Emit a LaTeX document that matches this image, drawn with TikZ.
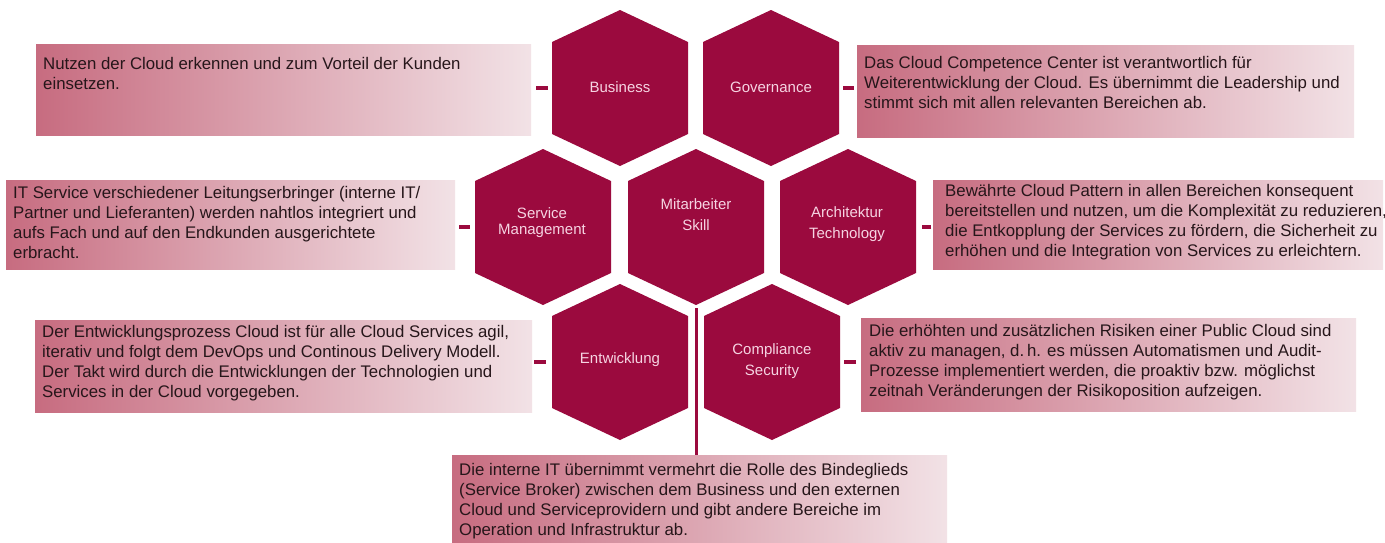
\documentclass[tikz,border=0pt]{standalone}
\usepackage{fontspec}
\setmainfont{Liberation Sans}
\definecolor{hexfill}{RGB}{155,10,62}
\definecolor{hextext}{RGB}{246,212,226}
\definecolor{boxL}{RGB}{199,108,128}
\definecolor{boxR}{RGB}{242,226,230}
\definecolor{txtdark}{RGB}{38,22,26}
\tikzset{
  boxstyle/.style={rectangle, draw=none, left color=boxL, right color=boxR, inner sep=0pt, anchor=north west},
  boxtxt/.style={anchor=north west, inner sep=0pt, align=left, text=txtdark, font=\fontsize{16.8}{20}\selectfont},
  hextxt/.style={text=hextext, align=center, inner sep=0pt, font=\fontsize{15}{21}\selectfont},
  hexshape/.style={fill=hexfill},
  connector/.style={draw=hexfill, line width=3.5pt},
  spine/.style={draw=hexfill, line width=3pt}
}
\newcommand\myhex[1]{\path[hexshape] (#1) ++(0,-78) -- ++(68,32) -- ++(0,92) -- ++(-68,32) -- ++(-68,-32) -- ++(0,-92) -- cycle;}
\begin{document}
\begin{tikzpicture}[x=1pt,y=-1pt]
\useasboundingbox (0,0) rectangle (1385,542);
\fill[white] (0,0) rectangle (1385,542);
% hexagon centres
\coordinate (cB) at (620,88);
\coordinate (cG) at (771,88);
\coordinate (cS) at (543,227);
\coordinate (cM) at (696,227);
\coordinate (cA) at (848,227);
\coordinate (cE) at (620,362);
\coordinate (cC) at (772,362);
\myhex{cB}\myhex{cG}\myhex{cS}\myhex{cM}\myhex{cA}\myhex{cE}\myhex{cC}
% hexagon labels
\node[hextxt] (business) at (620,87) {Business};
\node[hextxt] (governance) at (771,87) {Governance};
\node[hextxt, font=\fontsize{15}{16}\selectfont] (servman) at (542,223) {Service\\Management};
\node[hextxt] (mitarb) at (696,215) {Mitarbeiter\\Skill};
\node[hextxt] (archi) at (847,224) {Architektur\\Technology};
\node[hextxt] (entw) at (620,360) {Entwicklung};
\node[hextxt] (compl) at (772,361) {Compliance\\Security};
% boxes
\node[boxstyle, minimum width=495pt, minimum height=91pt] (b1) at (36,44) {};
\node[boxstyle, minimum width=497pt, minimum height=92pt] (b2) at (857,45) {};
\node[boxstyle, minimum width=449pt, minimum height=89pt] (b3) at (6,180) {};
\node[boxstyle, minimum width=450pt, minimum height=89pt] (b4) at (933,180) {};
\node[boxstyle, minimum width=497pt, minimum height=92pt] (b5) at (35,320) {};
\node[boxstyle, minimum width=495pt, minimum height=93pt] (b6) at (861,318) {};
\node[boxstyle, minimum width=495pt, minimum height=92pt] (b7) at (452,455) {};
% box texts
\node[boxtxt] (t1) at ([xshift=7pt,yshift=-11pt]b1.north west) {\strut Nutzen der Cloud erkennen und zum Vorteil der Kunden\\einsetzen.};
\node[boxtxt] (t2) at ([xshift=7pt,yshift=-9pt]b2.north west) {\strut Das Cloud Competence Center ist verantwortlich für\\Weiterentwicklung der Cloud. Es übernimmt die Leadership und\\stimmt sich mit allen relevanten Bereichen ab.};
\node[boxtxt] (t3) at ([xshift=7pt,yshift=-4pt]b3.north west) {\strut IT Service verschiedener Leitungserbringer (interne IT/\\Partner und Lieferanten) werden nahtlos integriert und\\aufs Fach und auf den Endkunden ausgerichtete\\erbracht.};
\node[boxtxt] (t4) at ([xshift=12pt,yshift=-2pt]b4.north west) {\strut Bewährte Cloud Pattern in allen Bereichen konsequent\\bereitstellen und nutzen, um die Komplexität zu reduzieren,\\die Entkopplung der Services zu fördern, die Sicherheit zu\\erhöhen und die Integration von Services zu erleichtern.};
\node[boxtxt] (t5) at ([xshift=7pt,yshift=-3pt]b5.north west) {\strut Der Entwicklungsprozess Cloud ist für alle Cloud Services agil,\\iterativ und folgt dem DevOps und Continous Delivery Modell.\\Der Takt wird durch die Entwicklungen der Technologien und\\Services in der Cloud vorgegeben.};
\node[boxtxt] (t6) at ([xshift=8pt,yshift=-4pt]b6.north west) {\strut Die erhöhten und zusätzlichen Risiken einer Public Cloud sind\\aktiv zu managen, d.\,h. es müssen Automatismen und Audit-\\Prozesse implementiert werden, die proaktiv bzw. möglichst\\zeitnah Veränderungen der Risikoposition aufzeigen.};
\node[boxtxt] (t7) at ([xshift=7pt,yshift=-6pt]b7.north west) {\strut Die interne IT übernimmt vermehrt die Rolle des Bindeglieds\\(Service Broker) zwischen dem Business und den externen\\Cloud und Serviceprovidern und gibt andere Bereiche im\\Operation und Infrastruktur ab.};
% short connectors
\coordinate (d1) at (b1.east |- cB);
\coordinate (d2) at (b2.west |- cG);
\coordinate (d3) at (b3.east |- cS);
\coordinate (d4) at (b4.west |- cA);
\coordinate (d5) at (b5.east |- cE);
\coordinate (d6) at (b6.west |- cC);
\draw[connector] ([xshift=5pt]d1) -- ([xshift=17pt]d1);
\draw[connector] ([xshift=-3pt]d2) -- ([xshift=-14pt]d2);
\draw[connector] ([xshift=4pt]d3) -- ([xshift=15pt]d3);
\draw[connector] ([xshift=-2pt]d4) -- ([xshift=-11pt]d4);
\draw[connector] ([xshift=2pt]d5) -- ([xshift=14pt]d5);
\draw[connector] ([xshift=-5pt]d6) -- ([xshift=-17pt]d6);
% spine from Mitarbeiter to bottom box
\draw[spine] ([yshift=-81pt]cM) -- (cM |- b7.north);
\end{tikzpicture}
\end{document}
